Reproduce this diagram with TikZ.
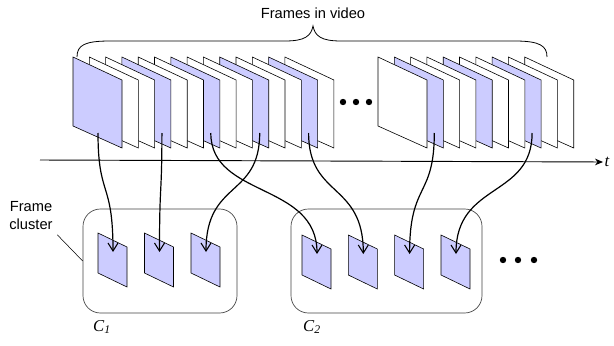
\documentclass[tikz,border=0pt]{standalone}
\usepackage{fontspec}
\setmainfont{Liberation Sans}
\newfontfamily\timesfont{Liberation Serif}
\usetikzlibrary{arrows.meta}

\definecolor{keyfill}{RGB}{204,204,255}

% Frame shapes (coordinates in pixels of the sketch, y pointing down)
\newcommand{\bigframe}[4]{% left x, fill, name, start offset
  \draw[vframe, fill=#2] (#1,57) -- ++(49,23) -- ++(0,68) -- ++(-49,-22) -- cycle;
  \coordinate (#3) at (#1+#4,133);
}
\newcommand{\smallframe}[3]{% left x, top y, name
  \draw[vframe, fill=keyfill] (#1,#2) -- ++(29,14) -- ++(0,40) -- ++(-29,-14) -- cycle;
  \coordinate (#3) at (#1+15,#2+19);
}

\tikzset{
  vframe/.style={draw=black, line width=0.45pt},
  cluster/.style={draw=black!75, line width=0.5pt, rounded corners=13pt, inner sep=0pt},
  link/.style={line width=0.9pt, -{Straight Barb[length=6pt, width=7.5pt, line width=0.8pt]}},
  timeaxis/.style={line width=0.7pt, -{Stealth[length=6pt, width=5pt]}},
  dotmark/.style={fill=black, circle, inner sep=0pt, minimum size=4.8pt},
  label/.style={font=\fontsize{11}{13.5}\selectfont},
  clabel/.style={font=\fontsize{12.5}{14}\selectfont\timesfont\itshape}
}

\begin{document}
\begin{tikzpicture}[x=0.75pt, y=-0.75pt]
\useasboundingbox (0,0) rectangle (614,346);

% Brace and title
\draw[line width=0.6pt] (77,57) .. controls (77,45) and (85,41) .. (110,41) -- (285,41)
  .. controls (305,41) and (311,36) .. (313,26) .. controls (315,36) and (321,41) .. (341,41)
  -- (515,41) .. controls (540,41) and (547,46) .. (547,57);
\node[label] (title) at (313,13) {Frames in video};

% Time axis
\coordinate (tstart) at (40,160);
\node[clabel, anchor=west, inner sep=1pt] (tlab) at (603,162) {t};
\draw[timeaxis] (tstart) -- (tlab.west);

% First run of frames, drawn back to front
\foreach \i in {14,...,1} {
  \pgfmathsetmacro\lx{73+(\i-1)*16.3}
  \pgfmathtruncatemacro\r{mod(\i,3)}
  \pgfmathsetmacro\off{\i==1 ? 25 : 40}
  \ifnum\r=1 \def\fc{keyfill}\else\def\fc{white}\fi
  \bigframe{\lx}{\fc}{g1f\i}{\off}
}

% Second run of frames
\foreach \i in {10,...,1} {
  \pgfmathsetmacro\lx{378+(\i-1)*16.3}
  \pgfmathtruncatemacro\r{mod(\i,3)}
  \ifnum\r=2 \def\fc{keyfill}\else\def\fc{white}\fi
  \bigframe{\lx}{\fc}{g2f\i}{40}
}

% Dots between the runs
\foreach \x [count=\k] in {343,356,369}
  \node[dotmark] (gap\k) at (\x,102) {};

% Frame clusters
\node[cluster, minimum width=115.5pt, minimum height=78pt] (cl1) at (160,261) {};
\node[cluster, minimum width=143.25pt, minimum height=78pt] (cl2) at (386.5,261) {};

\smallframe{98}{233}{c1a}
\smallframe{144.5}{233}{c1b}
\smallframe{191}{233}{c1c}
\smallframe{302}{235}{c2a}
\smallframe{348.3}{235}{c2b}
\smallframe{394.6}{235}{c2c}
\smallframe{441}{235}{c2d}

\foreach \x [count=\k] in {503,518,534}
  \node[dotmark] (more\k) at (\x,260) {};

% Labels
\node[label, align=center] (fclabel) at (31,216) {Frame\\cluster};
\draw[line width=0.4pt] (fclabel.south east) -- (cl1.west);
\node[clabel] (c1lab) at (102,327) {C\textsubscript{1}};
\node[clabel] (c2lab) at (312,327) {C\textsubscript{2}};

% Key frames to clusters
\foreach \a/\b in {g1f1/c1a, g1f4/c1b, g1f7/c2a, g1f10/c1c, g1f13/c2b, g2f2/c2c, g2f8/c2d}
  \draw[link] (\a) .. controls +(0,65) and +(0,-72) .. (\b);

\end{tikzpicture}
\end{document}
